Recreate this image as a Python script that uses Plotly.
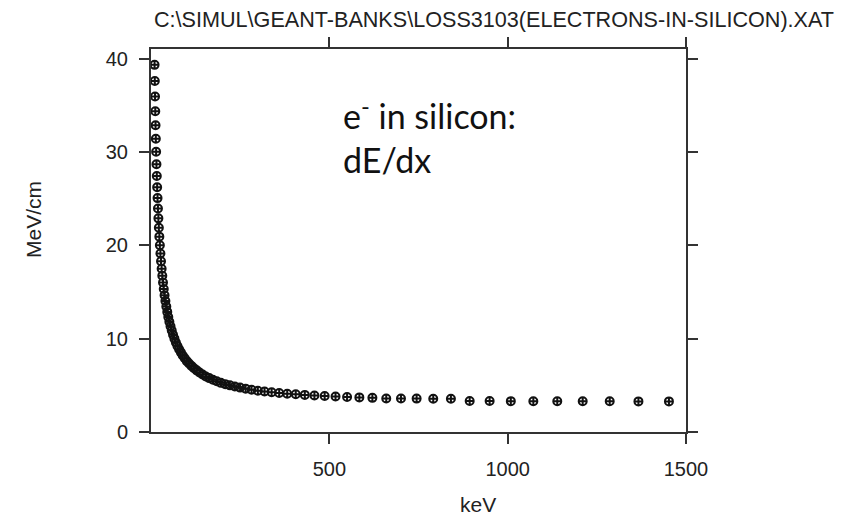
import plotly.graph_objects as go

# Electron energy (keV) and stopping power dE/dx (MeV/cm) in silicon
energy_kev = [
    10.0, 10.63, 11.29, 12.0, 12.75, 13.55, 14.39, 15.3, 16.25, 17.27,
    18.35, 19.5, 20.72, 22.01, 23.39, 24.86, 26.41, 28.06, 29.82, 31.69,
    33.67, 35.78, 38.02, 40.4, 42.93, 45.62, 48.48, 51.51, 54.74, 58.16,
    61.8, 65.67, 69.78, 74.15, 78.79, 83.72, 88.96, 94.53, 100.45, 106.73,
    113.41, 120.51, 128.05, 136.07, 144.58, 153.63, 163.25, 173.47, 184.32, 195.86,
    208.12, 221.15, 234.99, 249.7, 265.33, 281.93, 299.58, 318.33, 338.25, 359.42,
    381.92, 405.82, 431.22, 458.21, 486.89, 517.37, 549.75, 584.16, 620.72, 659.57,
    700.85, 744.72, 791.33, 840.86, 893.49, 949.42, 1008.84, 1071.99, 1139.08, 1210.38,
    1286.13, 1366.63, 1452.16,
]
dedx_mev_cm = [
    39.37, 37.64, 35.98, 34.40, 32.89, 31.44, 30.06, 28.72, 27.45, 26.24,
    25.08, 23.97, 22.91, 21.91, 20.95, 20.03, 19.15, 18.31, 17.51, 16.75,
    16.03, 15.34, 14.67, 14.04, 13.45, 12.88, 12.34, 11.82, 11.34, 10.88,
    10.43, 10.01, 9.60, 9.23, 8.88, 8.54, 8.21, 7.90, 7.60, 7.34,
    7.09, 6.84, 6.61, 6.38, 6.16, 5.95, 5.78, 5.60, 5.44, 5.27,
    5.13, 5.00, 4.88, 4.76, 4.65, 4.53, 4.43, 4.35, 4.27, 4.19,
    4.11, 4.05, 3.98, 3.92, 3.86, 3.81, 3.76, 3.71, 3.66, 3.60,
    3.59, 3.58, 3.57, 3.56, 3.33, 3.32, 3.31, 3.30, 3.30, 3.29,
    3.29, 3.28, 3.28,
]

x_ticks = [500, 1000, 1500]
y_ticks = [0, 10, 20, 30, 40]

title_text = "C:\\SIMUL\\GEANT-BANKS\\LOSS3103(ELECTRONS-IN-SILICON).XAT"
x_title = "keV"
y_title = "MeV/cm"
note_text = "e<sup>-</sup> in silicon:<br>dE/dx"

W, H = 865, 524
L, R, T, B = 151, 179, 49, 92
plot_w = W - L - R
plot_h = H - T - B


def px_x(px):
    return (px - L) / plot_w


def px_y(py):
    return (H - B - py) / plot_h


axis_font = dict(family="Liberation Sans, Arial, sans-serif", size=20, color="#222")
label_font = dict(family="Liberation Sans, Arial, sans-serif", size=21, color="#222")
title_font = dict(family="Liberation Sans, Arial, sans-serif", size=21.6, color="#222")

fig = go.Figure(
    go.Scatter(
        x=energy_kev,
        y=dedx_mev_cm,
        mode="markers",
        cliponaxis=False,
        marker=dict(
            symbol="circle-cross-open",
            size=8,
            color="#111",
            line=dict(width=2, color="#111"),
        ),
        hoverinfo="x+y",
    )
)

axis_common = dict(
    showgrid=False,
    zeroline=False,
    showline=True,
    linewidth=2,
    linecolor="#333",
    mirror="ticks",
    ticks="outside",
    ticklen=10,
    tickwidth=2,
    tickcolor="#333",
    tickfont=axis_font,
    automargin=False,
)

fig.update_layout(
    width=W,
    height=H,
    margin=dict(l=L, r=R, t=T, b=B, pad=0),
    paper_bgcolor="white",
    plot_bgcolor="white",
    showlegend=False,
    xaxis=dict(range=[0, 1500], tickvals=x_ticks, ticklabelstandoff=8, **axis_common),
    yaxis=dict(range=[0, 41.07], tickvals=y_ticks, ticklabelstandoff=7, **axis_common),
    annotations=[
        dict(text=title_text, xref="paper", yref="paper", x=px_x(152), y=px_y(20),
             xanchor="left", yanchor="middle", showarrow=False, font=title_font),
        dict(text=x_title, xref="paper", yref="paper", x=px_x(478), y=px_y(504),
             xanchor="center", yanchor="middle", showarrow=False, font=label_font),
        dict(text=y_title, xref="paper", yref="paper", x=px_x(33), y=px_y(220),
             xanchor="center", yanchor="middle", textangle=-90, showarrow=False,
             font=label_font),
        dict(text=note_text, xref="paper", yref="paper", x=px_x(341), y=px_y(90),
             xanchor="left", yanchor="top", align="left", showarrow=False,
             font=dict(family="Lato, sans-serif", size=34, color="#111")),
    ],
)

fig.write_html("out.html")
